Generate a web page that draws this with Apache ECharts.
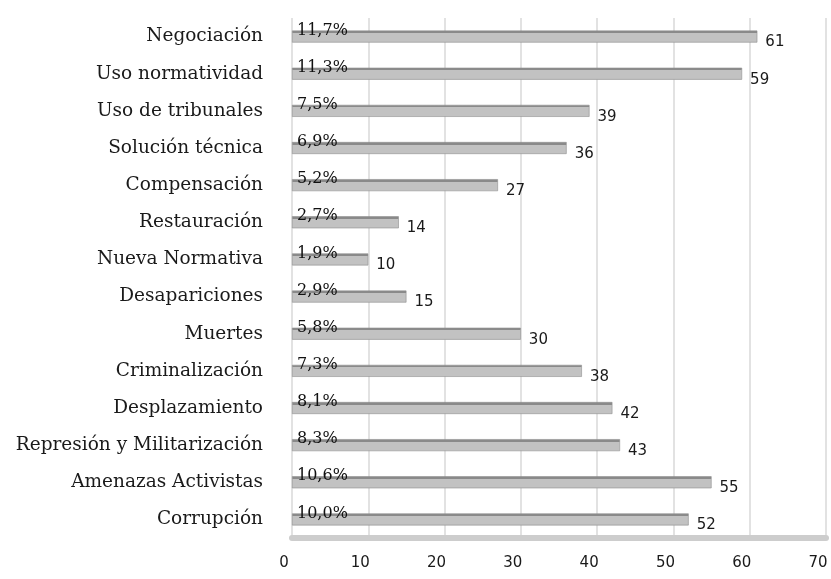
<!DOCTYPE html>
<html>
<head>
<meta charset="utf-8">
<script src="https://cdn.jsdelivr.net/npm/echarts@6/dist/echarts.min.js"></script>
<style>
  html, body { margin: 0; padding: 0; background: #fff; }
  #main { width: 831px; height: 579px; }
</style>
</head>
<body>
<div id="main"></div>
<script>
// datos
const categorias = [
  'Negociación', 'Uso normatividad', 'Uso de tribunales', 'Solución técnica',
  'Compensación', 'Restauración', 'Nueva Normativa', 'Desapariciones',
  'Muertes', 'Criminalización', 'Desplazamiento', 'Represión y Militarización',
  'Amenazas Activistas', 'Corrupción'
];
const valores = [61, 59, 39, 36, 27, 14, 10, 15, 30, 38, 42, 43, 55, 52];
const porcentajes = ['11,7%', '11,3%', '7,5%', '6,9%', '5,2%', '2,7%', '1,9%',
  '2,9%', '5,8%', '7,3%', '8,1%', '8,3%', '10,6%', '10,0%'];
const ejeX = { min: 0, max: 70, interval: 10 };

var myChart = echarts.init(document.getElementById('main'));

// barra con cara superior oscura (efecto 3d)
const colorBarra = new echarts.graphic.LinearGradient(0, 0, 0, 1, [
  { offset: 0, color: '#8a8a8a' },
  { offset: 0.22, color: '#8a8a8a' },
  { offset: 0.22, color: '#c2c2c2' },
  { offset: 1, color: '#c2c2c2' }
]);

myChart.setOption({
  animation: false,
  grid: { left: 292, right: 5, top: 18, bottom: 41 },
  xAxis: {
    type: 'value',
    min: ejeX.min,
    max: ejeX.max,
    interval: ejeX.interval,
    axisLine: { show: true, lineStyle: { color: '#cdcdcd', width: 6 } },
    axisTick: { show: false },
    splitLine: { show: true, lineStyle: { color: '#d9d9d9', width: 1.5 } },
    axisLabel: {
      margin: 18,
      padding: [0, 16, 0, 0],
      color: '#1a1a1a',
      fontSize: 15,
      fontFamily: 'DejaVu Sans'
    }
  },
  yAxis: {
    type: 'category',
    data: categorias,
    inverse: true,
    axisLine: { show: false },
    axisTick: { show: false },
    axisLabel: {
      margin: 29,
      color: '#1a1a1a',
      fontSize: 18.5,
      fontFamily: 'DejaVu Serif'
    }
  },
  series: [
    {
      type: 'bar',
      data: valores,
      barWidth: 12,
      itemStyle: { color: colorBarra, borderColor: '#8f8f8f', borderWidth: 0.6 },
      label: {
        show: true,
        position: 'right',
        offset: [3, 6],
        color: '#1a1a1a',
        fontSize: 15,
        fontFamily: 'DejaVu Sans'
      }
    },
    {
      // solo para la etiqueta del porcentaje
      type: 'bar',
      data: valores,
      barWidth: 12,
      barGap: '-100%',
      itemStyle: { color: 'rgba(0,0,0,0)' },
      label: {
        show: true,
        position: 'insideLeft',
        offset: [0, -6],
        formatter: function (p) { return porcentajes[p.dataIndex]; },
        color: '#111',
        fontSize: 16,
        fontFamily: 'DejaVu Serif'
      }
    }
  ]
});
</script>
</body>
</html>
